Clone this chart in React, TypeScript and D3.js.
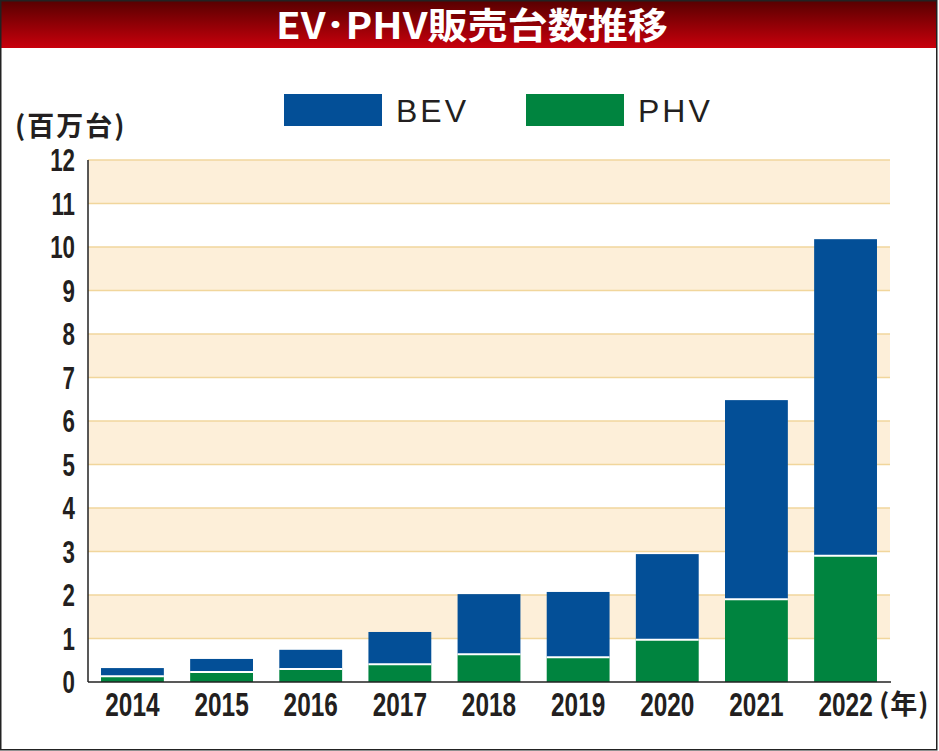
import { useEffect, useRef } from 'react';
import * as d3 from 'd3';

const years = ['2014', '2015', '2016', '2017', '2018', '2019', '2020', '2021', '2022'];
const phv = [0.13, 0.23, 0.3, 0.41, 0.64, 0.57, 0.97, 1.9, 2.9];
const bev = [0.19, 0.3, 0.44, 0.74, 1.38, 1.5, 1.97, 4.58, 7.28];
const yTicks = [0, 1, 2, 3, 4, 5, 6, 7, 8, 9, 10, 11, 12];
const seriesNames = ['BEV', 'PHV'];

const BEV_COLOR = '#034f97';
const PHV_COLOR = '#00843f';
const SANS = '"Liberation Sans", Arial, sans-serif';
const CJK = '"Noto Sans CJK JP", sans-serif';

export default function App() {
  const ref = useRef<SVGSVGElement | null>(null);

  useEffect(() => {
    if (!ref.current) return;
    const svg = d3.select(ref.current);
    svg.selectAll('*').remove();

    const width = 939;
    const height = 751;
    const margin = { top: 160, right: 49, bottom: 69, left: 88 };
    const innerWidth = width - margin.left - margin.right;
    const innerHeight = height - margin.top - margin.bottom;

    svg.attr('width', width).attr('height', height);

    svg.append('rect').attr('x', 0).attr('y', 0).attr('width', width).attr('height', height).attr('fill', '#fff');

    const defs = svg.append('defs');
    const grad = defs.append('linearGradient').attr('id', 'titleGrad').attr('x1', 0).attr('y1', 0).attr('x2', 0).attr('y2', 1);
    grad.append('stop').attr('offset', '0%').attr('stop-color', '#560000');
    grad.append('stop').attr('offset', '100%').attr('stop-color', '#c8000c');

    svg.append('rect').attr('x', 0).attr('y', 0).attr('width', 937).attr('height', 48).attr('fill', 'url(#titleGrad)');

    // title, squeezed horizontally to the reference width
    const title = svg.append('g');
    const titleText = title.append('text')
      .attr('x', 0)
      .attr('y', 0)
      .attr('text-anchor', 'middle')
      .attr('fill', '#fff')
      .attr('font-family', CJK)
      .attr('font-weight', 700)
      .attr('font-size', 36)
      .text('EV･PHV販売台数推移');
    const tw = (titleText.node() as SVGTextElement).getComputedTextLength() || 392;
    title.attr('transform', `translate(472,39) scale(${392 / tw},1)`);

    svg.append('rect')
      .attr('x', 0.75).attr('y', 0.75).attr('width', 936).attr('height', 749)
      .attr('fill', 'none').attr('stroke', '#222').attr('stroke-width', 1.5);

    const x = d3.scaleBand<string>()
      .domain(years)
      .range([0, innerWidth])
      .paddingInner(0.295)
      .paddingOuter(0.146);

    const y = d3.scaleLinear().domain([0, 12]).range([innerHeight, 0]);

    const g = svg.append('g').attr('transform', `translate(${margin.left},${margin.top})`);

    // alternating bands
    yTicks.slice(0, -1).forEach((t) => {
      if (t % 2 === 1) {
        g.append('rect')
          .attr('x', 0)
          .attr('y', y(t + 1))
          .attr('width', innerWidth)
          .attr('height', y(t) - y(t + 1))
          .attr('fill', '#fdefd9');
      }
    });

    g.selectAll('line.grid')
      .data(yTicks.slice(1))
      .join('line')
      .attr('class', 'grid')
      .attr('x1', 0)
      .attr('x2', innerWidth)
      .attr('y1', (d) => y(d))
      .attr('y2', (d) => y(d))
      .attr('stroke', '#f1d69c')
      .attr('stroke-width', 1.5);

    // stacked bars
    years.forEach((yr, i) => {
      const bx = x(yr)!;
      const bw = x.bandwidth();
      g.append('rect')
        .attr('x', bx).attr('y', y(phv[i]))
        .attr('width', bw).attr('height', y(0) - y(phv[i]))
        .attr('fill', PHV_COLOR);
      g.append('rect')
        .attr('x', bx).attr('y', y(phv[i] + bev[i]))
        .attr('width', bw).attr('height', y(phv[i]) - y(phv[i] + bev[i]))
        .attr('fill', BEV_COLOR);
      g.append('line')
        .attr('x1', bx).attr('x2', bx + bw)
        .attr('y1', y(phv[i])).attr('y2', y(phv[i]))
        .attr('stroke', '#fff').attr('stroke-width', 2);
    });

    // axes
    g.append('line').attr('x1', 0).attr('x2', 0).attr('y1', 0).attr('y2', innerHeight)
      .attr('stroke', '#222').attr('stroke-width', 1.5);
    g.append('line').attr('x1', 0).attr('x2', innerWidth + 1).attr('y1', innerHeight).attr('y2', innerHeight)
      .attr('stroke', '#222').attr('stroke-width', 1.5);

    // condensed tick labels
    g.selectAll('g.ytick')
      .data(yTicks)
      .join('g')
      .attr('class', 'ytick')
      .attr('transform', (d) => `translate(-13,${y(d) + 11}) scale(0.72,1)`)
      .append('text')
      .attr('text-anchor', 'end')
      .attr('font-family', SANS)
      .attr('font-weight', 700)
      .attr('font-size', 31)
      .attr('fill', '#231f20')
      .text((d) => d);

    g.selectAll('g.xtick')
      .data(years)
      .join('g')
      .attr('class', 'xtick')
      .attr('transform', (d) => `translate(${x(d)! + x.bandwidth() / 2},${innerHeight + 34}) scale(0.74,1)`)
      .append('text')
      .attr('text-anchor', 'middle')
      .attr('font-family', SANS)
      .attr('font-weight', 700)
      .attr('font-size', 33)
      .attr('fill', '#231f20')
      .text((d) => d);

    svg.append('text')
      .attr('x', 879)
      .attr('y', 714)
      .attr('font-family', CJK)
      .attr('font-weight', 700)
      .attr('font-size', 27)
      .attr('letter-spacing', 1)
      .attr('fill', '#231f20')
      .text('(年)');

    svg.append('text')
      .attr('x', 15)
      .attr('y', 136)
      .attr('font-family', CJK)
      .attr('font-weight', 700)
      .attr('font-size', 27)
      .attr('letter-spacing', 2)
      .attr('fill', '#231f20')
      .text('(百万台)');

    // legend
    const legendX = [284, 526];
    seriesNames.forEach((name, i) => {
      const lg = svg.append('g').attr('transform', `translate(${legendX[i]},94)`);
      lg.append('rect').attr('width', 98).attr('height', 32).attr('fill', i === 0 ? BEV_COLOR : PHV_COLOR);
      lg.append('text')
        .attr('x', 112)
        .attr('y', 28)
        .attr('font-family', SANS)
        .attr('font-size', 32)
        .attr('letter-spacing', 3)
        .attr('fill', '#231f20')
        .text(name);
    });
  }, []);

  return (
    <div>
      <svg ref={ref} style={{ position: 'absolute', left: 0, top: 0, display: 'block' }}></svg>
    </div>
  );
}
